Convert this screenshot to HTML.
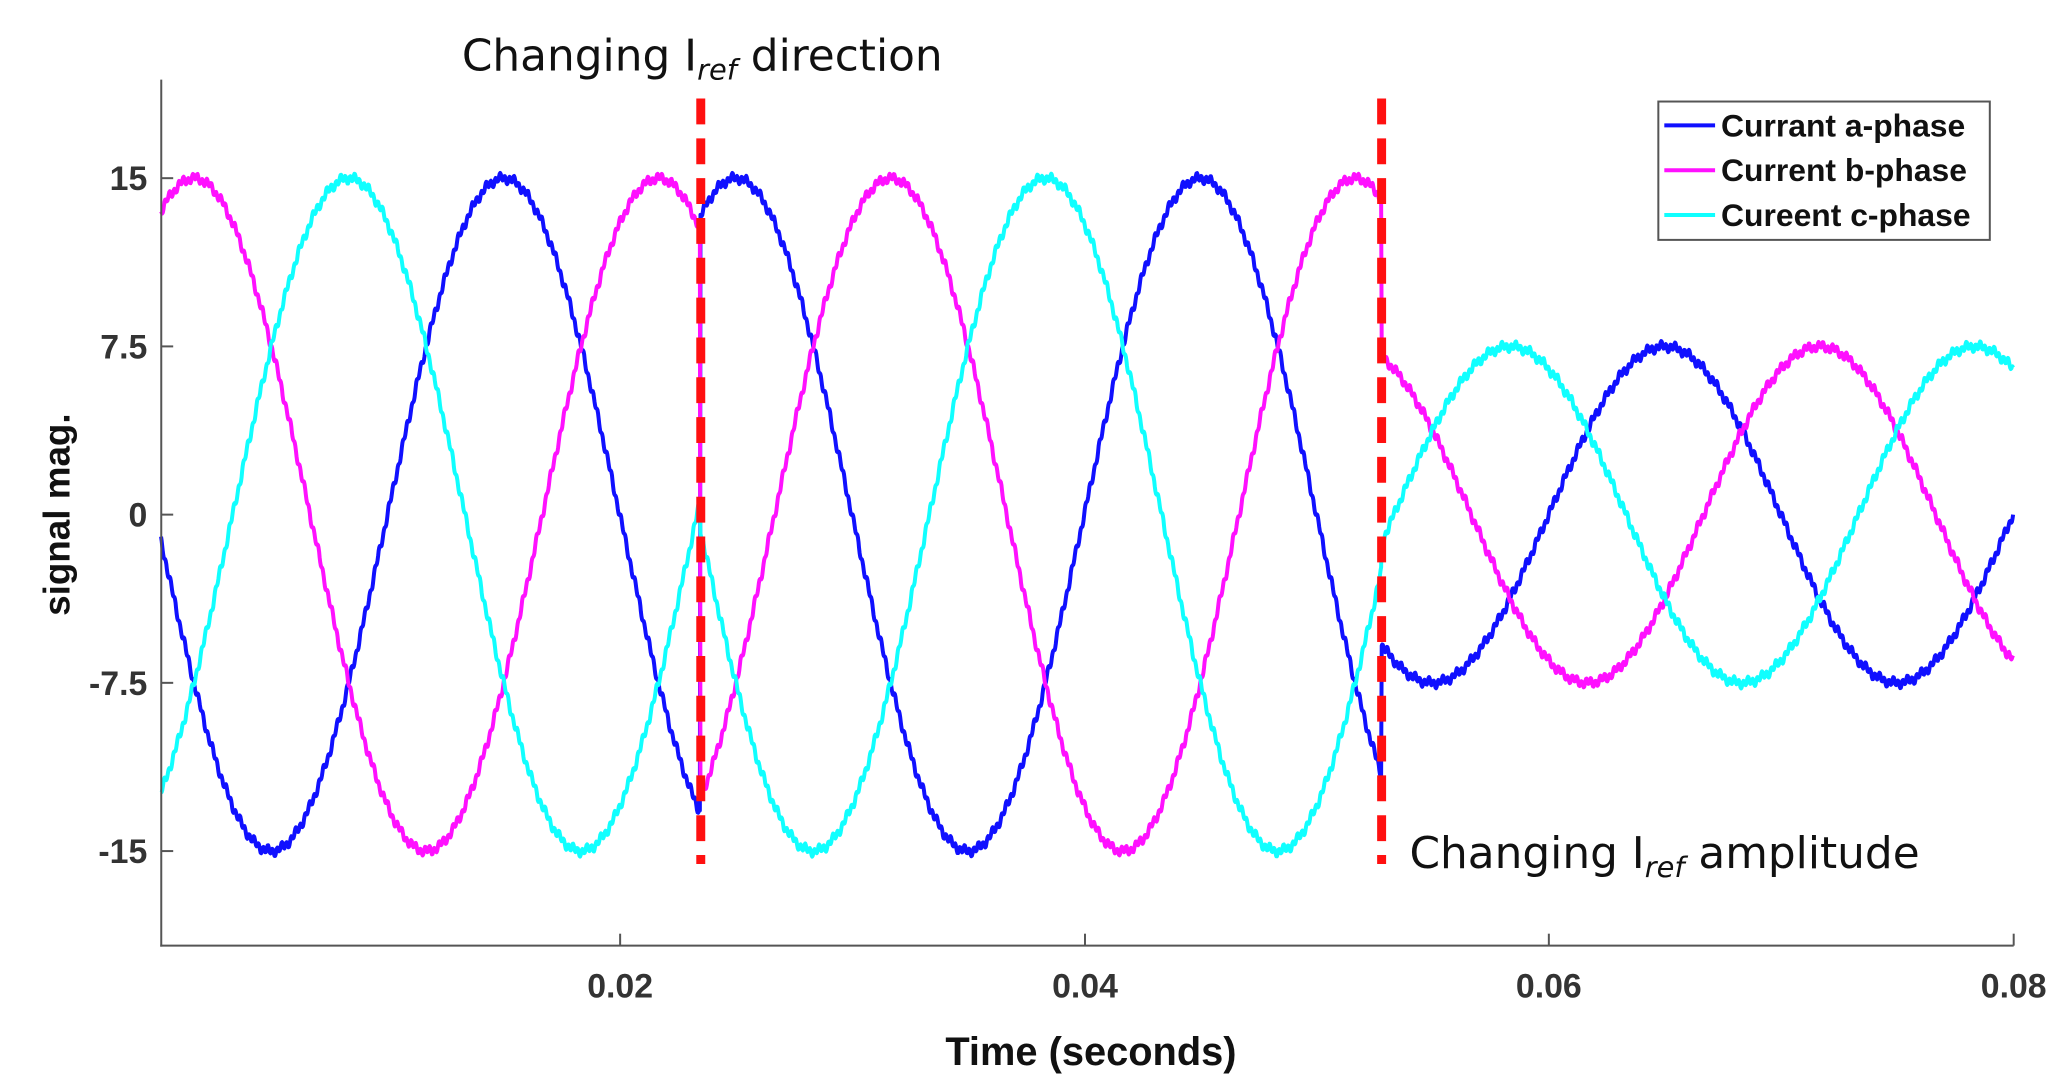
<!DOCTYPE html>
<html><head><meta charset="utf-8">
<style>
html,body{margin:0;padding:0;background:#fff;}
svg{display:block;}
</style></head>
<body>
<svg id="s" width="2068" height="1087" viewBox="0 0 2068 1087" xmlns="http://www.w3.org/2000/svg">
<g transform="scale(0.9954)">
<g id="curves" fill="none" stroke-width="4" stroke-linejoin="round"></g>
<g stroke="#555" stroke-width="2" fill="none">
<line x1="162" y1="80" x2="162" y2="951"/>
<line x1="161" y1="950" x2="2023" y2="950"/>
<line x1="162" y1="179" x2="174" y2="179"/>
<line x1="162" y1="348" x2="174" y2="348"/>
<line x1="162" y1="517" x2="174" y2="517"/>
<line x1="162" y1="686" x2="174" y2="686"/>
<line x1="162" y1="855" x2="174" y2="855"/>
<line x1="623" y1="950" x2="623" y2="938"/>
<line x1="1090" y1="950" x2="1090" y2="938"/>
<line x1="1556" y1="950" x2="1556" y2="938"/>
<line x1="2023" y1="950" x2="2023" y2="938"/>
</g>
<g font-family="Liberation Sans, sans-serif" font-weight="bold" font-size="34" fill="#333">
<text x="148" y="191" text-anchor="end">15</text>
<text x="148" y="360" text-anchor="end">7.5</text>
<text x="148" y="529" text-anchor="end">0</text>
<text x="148" y="698" text-anchor="end">-7.5</text>
<text x="148" y="867" text-anchor="end">-15</text>
<text x="623" y="1002" text-anchor="middle">0.02</text>
<text x="1090" y="1002" text-anchor="middle">0.04</text>
<text x="1556" y="1002" text-anchor="middle">0.06</text>
<text x="2023" y="1002" text-anchor="middle">0.08</text>
</g>
<text x="1096" y="1070" text-anchor="middle" font-family="Liberation Sans, sans-serif" font-weight="bold" font-size="40" fill="#111">Time (seconds)</text>
<text transform="translate(70,517) rotate(-90)" text-anchor="middle" font-family="Liberation Sans, sans-serif" font-weight="bold" font-size="37" fill="#111">signal mag.</text>
<g stroke="#ff1010" stroke-width="9" stroke-dasharray="26,14">
<line x1="704" y1="99" x2="704" y2="868"/>
<line x1="1388" y1="99" x2="1388" y2="868"/>
</g>
<g font-family="DejaVu Sans, sans-serif" font-size="44" fill="#111">
<text x="464" y="71">Changing I<tspan font-style="italic" font-size="29" dy="9">ref</tspan><tspan dy="-9"> direction</tspan></text>
<text x="1416" y="872">Changing I<tspan font-style="italic" font-size="29" dy="9">ref</tspan><tspan dy="-9"> amplitude</tspan></text>
</g>
<rect x="1666" y="102" width="333" height="139" fill="#fff" stroke="#555" stroke-width="2"/>
<g stroke-width="4">
<line x1="1672" y1="126" x2="1723" y2="126" stroke="#1010ff"/>
<line x1="1672" y1="171" x2="1723" y2="171" stroke="#ff10ff"/>
<line x1="1672" y1="216" x2="1723" y2="216" stroke="#10ffff"/>
</g>
<g font-family="Liberation Sans, sans-serif" font-weight="bold" font-size="32" fill="#111">
<text x="1729" y="137">Currant a-phase</text>
<text x="1729" y="182">Current b-phase</text>
<text x="1729" y="227">Cureent c-phase</text>
</g>
</g>
</svg>
<script>
(function(){
var g=document.getElementById('curves');
var X=function(t){return 156+t*23330;};
var Y=function(v){return 517-v*338/15;};
var w=2*Math.PI*50, t1=0.02347, t2=0.0528;
var cols=['#1010ff','#ff10ff','#10ffff'];
var ph=[0,-2*Math.PI/3,2*Math.PI/3];
for(var k=0;k<3;k++){
  var d='';
  for(var i=0;i<=3200;i++){
    var t=0.00025+i*(0.07975/3200);
    var A=t<t2?15:7.5, s=t<t1?-1:1;
    var v=s*A*Math.sin(w*t+ph[k]);
    v+=0.15*Math.sin(2*Math.PI*5000*t+k)+0.1*Math.sin(2*Math.PI*1700*t+2*k);
    d+=(i?'L':'M')+X(t).toFixed(1)+' '+Y(v).toFixed(1);
  }
  var p=document.createElementNS('http://www.w3.org/2000/svg','path');
  p.setAttribute('d',d);p.setAttribute('stroke',cols[k]);
  g.appendChild(p);
}
})();
</script>
</body></html>
